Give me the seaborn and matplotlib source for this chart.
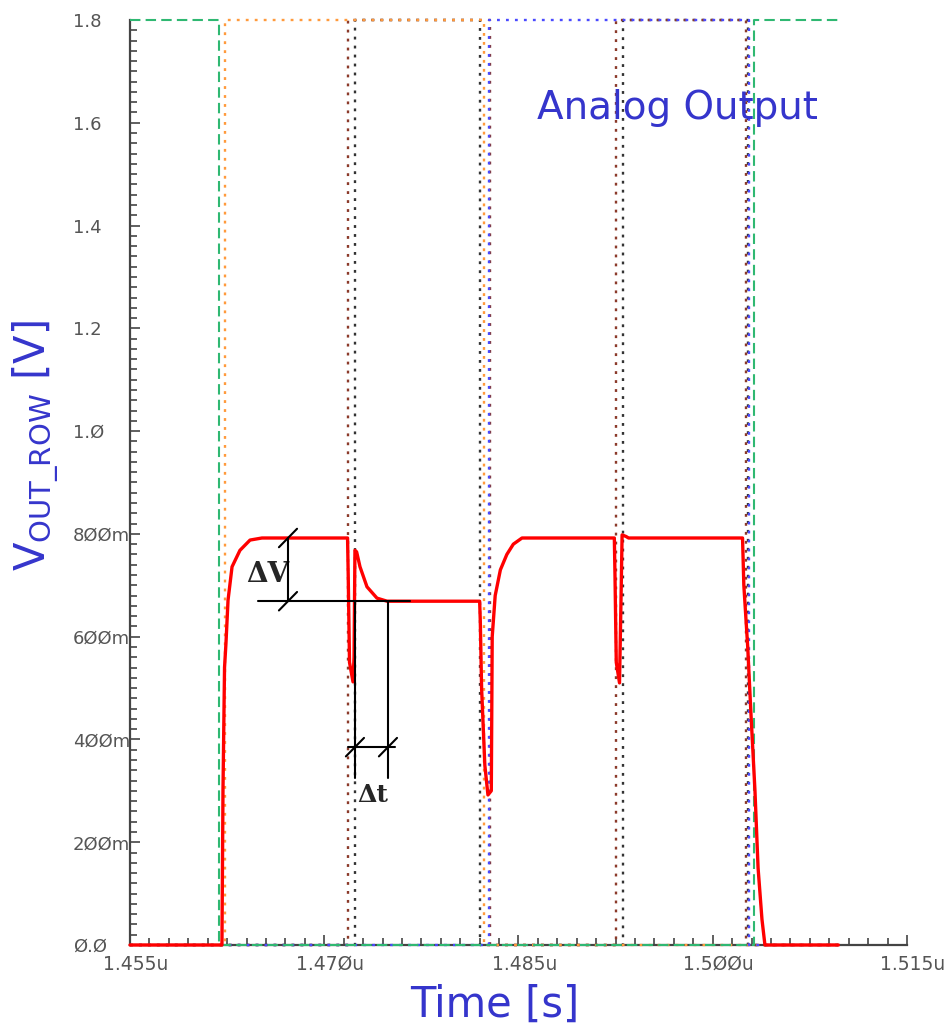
import numpy as np
import pandas as pd
import matplotlib
matplotlib.use("Agg")
import matplotlib.pyplot as plt
import matplotlib.transforms as mtrans
from matplotlib.ticker import MultipleLocator, FixedLocator, FixedFormatter
import seaborn as sns

sns.set_style("white")
plt.rcParams['font.family'] = ['DejaVu Sans']
plt.rcParams['mathtext.default'] = 'regular'

# ---------------- data ----------------
# Row output voltage (time in ns, volts)
vout_t = [1455.0, 1462.1, 1462.18, 1462.3, 1462.41, 1462.57, 1462.88, 1463.49, 1464.27, 1465.19,
          1471.8, 1471.85, 1471.95, 1472.22, 1472.3, 1472.37, 1472.5, 1472.76, 1473.3, 1474.07, 1474.85,
          1482.0, 1482.05, 1482.15, 1482.4, 1482.64, 1482.9, 1482.97, 1483.2, 1483.6, 1484.1, 1484.6, 1485.27,
          1492.4, 1492.45, 1492.55, 1492.8, 1492.9, 1493.0, 1493.3, 1493.5,
          1502.3, 1502.4, 1502.7, 1502.95, 1503.26, 1503.5, 1503.8, 1504.03, 1509.7]
vout_v = [0.0, 0.0, 0.30, 0.54, 0.587, 0.671, 0.736, 0.768, 0.788, 0.792,
          0.792, 0.72, 0.55, 0.512, 0.56, 0.768, 0.765, 0.736, 0.697, 0.675, 0.669,
          0.669, 0.63, 0.50, 0.35, 0.292, 0.30, 0.60, 0.68, 0.73, 0.76, 0.78, 0.792,
          0.792, 0.72, 0.55, 0.51, 0.65, 0.798, 0.795, 0.792,
          0.792, 0.70, 0.58, 0.45, 0.30, 0.15, 0.05, 0.0, 0.0]

# Digital control lines: toggle times (ns) and starting level (V)
t_start, t_end = 1455.0, 1509.7
rst_edges, rst_init = [1461.9, 1503.2], 1.8
sel1_edges, sel1_init = [1462.3, 1482.3], 0.0
sel2_edges, sel2_init = [1482.7, 1502.8], 0.0
tx_edges, tx_init = [1471.8, 1482.8, 1492.5, 1502.6], 0.0
sh_edges, sh_init = [1472.4, 1482.0, 1493.1, 1502.7], 0.0

# Axis ticks
x_ticks = [1455, 1470, 1485, 1500, 1515]
x_labels = ["1.455u", "1.47Øu", "1.485u", "1.5ØØu", "1.515u"]
y_ticks = [0.0, 0.2, 0.4, 0.6, 0.8, 1.0, 1.2, 1.4, 1.6, 1.8]
y_labels = ["Ø.Ø", "2ØØm", "4ØØm", "6ØØm", "8ØØm", "1.Ø", "1.2", "1.4", "1.6", "1.8"]

# Settling annotation (ns, V)
v_high, v_settled = 0.792, 0.669
t_step, t_settle = 1472.37, 1474.92


def square_wave(edges, init, hi=1.8):
    t, v = [t_start], [init]
    cur = init
    for e in edges:
        nxt = hi if cur == 0.0 else 0.0
        t += [e, e]
        v += [cur, nxt]
        cur = nxt
    t.append(t_end)
    v.append(cur)
    return pd.DataFrame({"t": t, "v": v})


fig = plt.figure(figsize=(9.46, 10.31), dpi=100)
ax = fig.add_axes([130 / 946, 1 - 945 / 1031, 777 / 946, 925 / 1031])

dot = (0, (1.2, 2.6))
signals = [
    (sh_edges, sh_init, "#333333", dot, 1.7),
    (tx_edges, tx_init, "#8b3a2a", dot, 1.7),
    (sel1_edges, sel1_init, "#ff9a3c", dot, 1.7),
    (sel2_edges, sel2_init, "#4a4aff", dot, 1.7),
    (rst_edges, rst_init, "#2fb872", (0, (5, 2.5)), 1.5),
]
for edges, init, col, ls, lw in signals:
    df = square_wave(edges, init)
    sns.lineplot(data=df, x="t", y="v", ax=ax, sort=False, estimator=None,
                 color=col, linestyle=ls, linewidth=lw, clip_on=False, zorder=3)

vout = pd.DataFrame({"t": vout_t, "v": vout_v})
sns.lineplot(data=vout, x="t", y="v", ax=ax, sort=False, estimator=None,
             color="#ff0000", linewidth=2.4, zorder=5, clip_on=False)

# Settling annotation: voltage step and settling time
k = dict(color="black", linewidth=1.5, zorder=6)
ax.plot([1464.88, 1476.6], [v_settled, v_settled], **k)
tv = 1467.2
ax.plot([tv, tv], [v_settled, v_high], **k)
for yv in (v_high, v_settled):
    ax.plot([tv - 0.7, tv + 0.7], [yv - 0.018, yv + 0.018], **k)
ax.plot([t_step, t_step], [v_settled, 0.325], **k)
ax.plot([t_settle, t_settle], [v_settled, 0.325], **k)
ax.plot([1471.83, 1475.45], [0.385, 0.385], **k)
for tx in (t_step, t_settle):
    ax.plot([tx - 0.7, tx + 0.7], [0.385 - 0.018, 0.385 + 0.018], **k)
ax.text(1465.6, 0.72, "ΔV", family="DejaVu Serif", fontweight="bold",
        fontsize=20, ha="center", va="center")
ax.text(1473.76, 0.292, "Δt", family="DejaVu Serif", fontweight="bold",
        fontsize=18, ha="center", va="center")

ax.set_xlim(1455, 1515)
ax.set_ylim(0, 1.8)
ax.xaxis.set_major_locator(FixedLocator(x_ticks))
ax.xaxis.set_major_formatter(FixedFormatter(x_labels))
ax.xaxis.set_minor_locator(MultipleLocator(1.5))
ax.yaxis.set_major_locator(FixedLocator(y_ticks))
ax.yaxis.set_major_formatter(FixedFormatter(y_labels))
ax.yaxis.set_minor_locator(MultipleLocator(0.02))

ax.tick_params(which="both", direction="in", color="#444444", width=1.2,
               left=True, bottom=True, top=False, right=False)
ax.tick_params(which="major", length=7)
ax.tick_params(which="minor", length=5)
ax.tick_params(axis="y", pad=41, labelsize=13, labelcolor="#555555")
ax.tick_params(axis="x", pad=7, labelsize=13.5, labelcolor="#555555")
for lab in ax.get_yticklabels():
    lab.set_ha("left")
shift = mtrans.ScaledTranslation(6 / 100, 0, fig.dpi_scale_trans)
for lab in ax.get_xticklabels():
    lab.set_transform(lab.get_transform() + shift)

for s in ("top", "right"):
    ax.spines[s].set_visible(False)
for s in ("left", "bottom"):
    ax.spines[s].set_color("#444444")
    ax.spines[s].set_linewidth(1.6)

ax.set_xlabel("")
ax.set_ylabel("")
blue = "#3535cc"
fig.text(495 / 946, 1 - 1005 / 1031, "Time [s]", color=blue, fontsize=30,
         ha="center", va="center")
fig.text(36 / 946, 1 - 446 / 1031, "V$_{OUT\\_ROW}$ [V]", color=blue, fontsize=30,
         rotation=90, ha="center", va="center")
fig.text(677 / 946, 1 - 108 / 1031, "Analog Output", color=blue, fontsize=28,
         ha="center", va="center")

fig.savefig("out.png", dpi=100)
